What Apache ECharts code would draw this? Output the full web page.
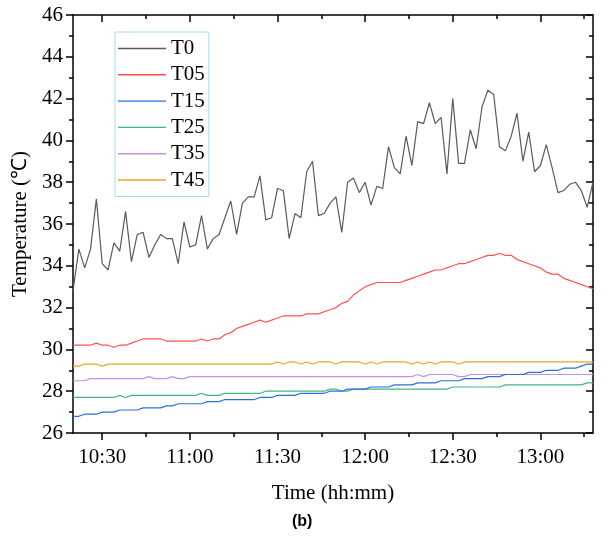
<!DOCTYPE html>
<html>
<head>
<meta charset="utf-8">
<script src="https://cdn.jsdelivr.net/npm/echarts@6/dist/echarts.min.js"></script>
<style>
  html, body { margin: 0; padding: 0; background: #fff; }
  #chart { width: 605px; height: 536px; }
</style>
</head>
<body>
<div id="chart"></div>
<script>
  // sampling times (every 2 min)
  const times = [
    '10:20','10:22','10:24','10:26','10:28','10:30','10:32','10:34','10:36','10:38',
    '10:40','10:42','10:44','10:46','10:48','10:50','10:52','10:54','10:56','10:58',
    '11:00','11:02','11:04','11:06','11:08','11:10','11:12','11:14','11:16','11:18',
    '11:20','11:22','11:24','11:26','11:28','11:30','11:32','11:34','11:36','11:38',
    '11:40','11:42','11:44','11:46','11:48','11:50','11:52','11:54','11:56','11:58',
    '12:00','12:02','12:04','12:06','12:08','12:10','12:12','12:14','12:16','12:18',
    '12:20','12:22','12:24','12:26','12:28','12:30','12:32','12:34','12:36','12:38',
    '12:40','12:42','12:44','12:46','12:48','12:50','12:52','12:54','12:56','12:58',
    '13:00','13:02','13:04','13:06','13:08','13:10','13:12','13:14','13:16','13:18'
  ]

  const t0 = [
    32.8, 34.8, 33.9, 34.8, 37.2, 34.1, 33.8, 35.1, 34.7, 36.6,
    34.2, 35.5, 35.6, 34.4, 35.0, 35.5, 35.3, 35.3, 34.1, 36.1,
    34.9, 35.0, 36.4, 34.8, 35.3, 35.5, 36.3, 37.1, 35.5, 37.0,
    37.3, 37.3, 38.3, 36.2, 36.3, 37.7, 37.6, 35.3, 36.5, 36.3,
    38.5, 39.0, 36.4, 36.5, 37.0, 37.3, 35.6, 38.0, 38.2, 37.5,
    38.0, 36.9, 37.8, 37.7, 39.7, 38.7, 38.4, 40.2, 38.8, 40.9,
    40.8, 41.8, 40.8, 41.1, 38.4, 42.0, 38.9, 38.9, 40.5, 39.6,
    41.6, 42.4, 42.2, 39.7, 39.5, 40.2, 41.3, 39.0, 40.4, 38.5,
    38.8, 39.8, 38.7, 37.5, 37.6, 37.9, 38.0, 37.6, 36.8, 38.0
  ]
  const t05 = [
    30.2, 30.2, 30.2, 30.2, 30.3, 30.2, 30.2, 30.1, 30.2, 30.2,
    30.3, 30.4, 30.5, 30.5, 30.5, 30.5, 30.4, 30.4, 30.4, 30.4,
    30.4, 30.4, 30.5, 30.4, 30.5, 30.5, 30.7, 30.8, 31.0, 31.1,
    31.2, 31.3, 31.4, 31.3, 31.4, 31.5, 31.6, 31.6, 31.6, 31.6,
    31.7, 31.7, 31.7, 31.8, 31.9, 32.0, 32.2, 32.3, 32.6, 32.8,
    33.0, 33.1, 33.2, 33.2, 33.2, 33.2, 33.2, 33.3, 33.4, 33.5,
    33.6, 33.7, 33.8, 33.8, 33.9, 34.0, 34.1, 34.1, 34.2, 34.3,
    34.4, 34.5, 34.5, 34.6, 34.5, 34.5, 34.3, 34.2, 34.1, 34.0,
    33.9, 33.7, 33.6, 33.6, 33.4, 33.3, 33.2, 33.1, 33.0, 32.9
  ]
  const t15 = [
    26.8, 26.8, 26.9, 26.9, 26.9, 27.0, 27.0, 27.0, 27.1, 27.1,
    27.1, 27.1, 27.2, 27.2, 27.2, 27.2, 27.3, 27.3, 27.4, 27.4,
    27.4, 27.4, 27.4, 27.5, 27.5, 27.5, 27.6, 27.6, 27.6, 27.6,
    27.6, 27.6, 27.7, 27.7, 27.7, 27.8, 27.8, 27.8, 27.8, 27.9,
    27.9, 27.9, 27.9, 27.9, 28.0, 28.0, 28.0, 28.1, 28.1, 28.1,
    28.1, 28.2, 28.2, 28.2, 28.2, 28.3, 28.3, 28.3, 28.3, 28.4,
    28.4, 28.4, 28.4, 28.5, 28.5, 28.5, 28.5, 28.6, 28.6, 28.6,
    28.6, 28.7, 28.7, 28.7, 28.8, 28.8, 28.8, 28.8, 28.9, 28.9,
    28.9, 29.0, 29.0, 29.0, 29.1, 29.1, 29.1, 29.2, 29.3, 29.3
  ]
  const t25 = [
    27.7, 27.7, 27.7, 27.7, 27.7, 27.7, 27.7, 27.7, 27.8, 27.7,
    27.8, 27.8, 27.8, 27.8, 27.8, 27.8, 27.8, 27.8, 27.8, 27.8,
    27.8, 27.8, 27.9, 27.8, 27.8, 27.8, 27.9, 27.9, 27.9, 27.9,
    27.9, 27.9, 27.9, 28.0, 28.0, 28.0, 28.0, 28.0, 28.0, 28.0,
    28.0, 28.0, 28.0, 28.0, 28.1, 28.1, 28.0, 28.0, 28.1, 28.1,
    28.1, 28.1, 28.1, 28.1, 28.1, 28.1, 28.1, 28.1, 28.1, 28.1,
    28.1, 28.1, 28.1, 28.1, 28.1, 28.2, 28.2, 28.2, 28.2, 28.2,
    28.2, 28.2, 28.2, 28.2, 28.3, 28.3, 28.3, 28.3, 28.3, 28.3,
    28.3, 28.3, 28.3, 28.3, 28.3, 28.3, 28.3, 28.3, 28.4, 28.4
  ]
  const t35 = [
    28.5, 28.5, 28.5, 28.6, 28.6, 28.6, 28.6, 28.6, 28.6, 28.6,
    28.6, 28.6, 28.6, 28.7, 28.6, 28.6, 28.6, 28.7, 28.6, 28.6,
    28.7, 28.7, 28.7, 28.7, 28.7, 28.7, 28.7, 28.7, 28.7, 28.7,
    28.7, 28.7, 28.7, 28.7, 28.7, 28.7, 28.7, 28.7, 28.7, 28.7,
    28.7, 28.7, 28.7, 28.7, 28.7, 28.7, 28.7, 28.7, 28.7, 28.7,
    28.7, 28.7, 28.7, 28.7, 28.7, 28.7, 28.7, 28.7, 28.7, 28.8,
    28.7, 28.8, 28.8, 28.8, 28.8, 28.8, 28.7, 28.7, 28.8, 28.8,
    28.8, 28.8, 28.8, 28.8, 28.8, 28.8, 28.8, 28.8, 28.8, 28.8,
    28.8, 28.8, 28.8, 28.8, 28.8, 28.8, 28.8, 28.8, 28.8, 28.8
  ]
  const t45 = [
    29.2, 29.2, 29.3, 29.3, 29.3, 29.2, 29.3, 29.3, 29.3, 29.3,
    29.3, 29.3, 29.3, 29.3, 29.3, 29.3, 29.3, 29.3, 29.3, 29.3,
    29.3, 29.3, 29.3, 29.3, 29.3, 29.3, 29.3, 29.3, 29.3, 29.3,
    29.3, 29.3, 29.3, 29.3, 29.3, 29.4, 29.3, 29.4, 29.4, 29.3,
    29.4, 29.3, 29.4, 29.4, 29.4, 29.3, 29.4, 29.4, 29.4, 29.4,
    29.3, 29.4, 29.3, 29.4, 29.4, 29.4, 29.4, 29.4, 29.3, 29.4,
    29.3, 29.4, 29.3, 29.4, 29.4, 29.4, 29.3, 29.4, 29.4, 29.4,
    29.4, 29.4, 29.4, 29.4, 29.4, 29.4, 29.4, 29.4, 29.4, 29.4,
    29.4, 29.4, 29.4, 29.4, 29.4, 29.4, 29.4, 29.4, 29.4, 29.4
  ]

  const seriesNames = ['T0', 'T05', 'T15', 'T25', 'T35', 'T45']
  const seriesValues = [t0, t05, t15, t25, t35, t45]
  const colors = ['#5a5a5a', '#ff5050', '#2a6fdf', '#45b583', '#c690e8', '#e2a822']

  const majorTickLabels = ['10:30', '11:00', '11:30', '12:00', '12:30', '13:00']
  const minorTickLabels = ['10:45', '11:15', '11:45', '12:15', '12:45', '13:15']

  function toMin(s) {
    const p = s.split(':')
    return Number(p[0]) * 60 + Number(p[1])
  }
  function fmtMin(v) {
    const h = Math.floor(v / 60)
    const m = Math.round(v - h * 60)
    return h + ':' + (m < 10 ? '0' + m : m)
  }

  const serif = 'Liberation Serif'
  const xMin = toMin(times[0])
  const xMax = toMin(times[times.length - 1])
  const majorVals = majorTickLabels.map(toMin)
  const minorVals = minorTickLabels.map(toMin)
  const axisLineStyle = { color: '#000', width: 1.5 }

  function tickAxis(position, vals, len, inside, showLine) {
    return {
      type: 'value',
      position: position,
      min: xMin,
      max: xMax,
      axisLine: { show: showLine, lineStyle: axisLineStyle },
      axisTick: { show: true, inside: inside, length: len, customValues: vals, lineStyle: axisLineStyle },
      axisLabel: { show: false },
      splitLine: { show: false }
    }
  }

  const option = {
    animation: false,
    backgroundColor: '#fff',
    title: {
      text: '(b)',
      left: 287,
      top: 509,
      textStyle: { fontFamily: 'Liberation Sans', fontWeight: 'bold', fontSize: 16, color: '#000' }
    },
    grid: { left: 73, right: 12, top: 15, bottom: 103, containLabel: false },
    legend: {
      data: seriesNames.map(function (n) { return { name: n, icon: 'rect' } }),
      orient: 'vertical',
      left: 115,
      top: 32,
      itemWidth: 48,
      itemHeight: 1.4,
      itemGap: 5.3,
      padding: [6, 4, 6, 3],
      borderColor: '#a8d8f2',
      borderWidth: 1,
      selectedMode: false,
      textStyle: { fontFamily: serif, fontSize: 21, color: '#000' }
    },
    xAxis: [
      {
        type: 'value',
        position: 'bottom',
        min: xMin,
        max: xMax,
        name: 'Time (hh:mm)',
        nameLocation: 'middle',
        nameGap: 50,
        nameTextStyle: { fontFamily: serif, fontSize: 21, color: '#000' },
        axisLine: { show: true, lineStyle: axisLineStyle },
        axisTick: { show: true, inside: false, length: 7, customValues: majorVals, lineStyle: axisLineStyle },
        axisLabel: {
          customValues: majorVals,
          formatter: fmtMin,
          fontFamily: serif,
          fontSize: 21,
          color: '#000',
          margin: 14
        },
        splitLine: { show: false }
      },
      tickAxis('bottom', minorVals, 4, false, false),
      tickAxis('top', majorVals, 7, true, true),
      tickAxis('top', minorVals, 4, true, false)
    ],
    yAxis: [
      {
        type: 'value',
        position: 'left',
        min: 26,
        max: 46,
        interval: 2,
        name: 'Temperature (℃)',
        nameLocation: 'middle',
        nameGap: 36,
        nameTextStyle: { fontFamily: serif, fontSize: 21, color: '#000' },
        axisLine: { show: true, lineStyle: axisLineStyle },
        axisTick: { show: true, inside: false, length: 7, lineStyle: axisLineStyle },
        minorTick: { show: true, splitNumber: 2, length: 4, lineStyle: axisLineStyle },
        axisLabel: { fontFamily: serif, fontSize: 21, color: '#000', margin: 10 },
        splitLine: { show: false }
      },
      {
        type: 'value',
        position: 'right',
        min: 26,
        max: 46,
        interval: 2,
        axisLine: { show: true, lineStyle: axisLineStyle },
        axisTick: { show: true, inside: true, length: 7, lineStyle: axisLineStyle },
        minorTick: { show: true, splitNumber: 2, length: 4, lineStyle: axisLineStyle },
        axisLabel: { show: false },
        splitLine: { show: false }
      }
    ],
    series: seriesNames.map(function (name, i) {
      return {
        name: name,
        type: 'line',
        xAxisIndex: 0,
        yAxisIndex: 0,
        symbol: 'none',
        color: colors[i],
        lineStyle: { color: colors[i], width: 1.2 },
        data: times.map(function (t, j) { return [toMin(t), seriesValues[i][j]] }),
        z: 10 - i
      }
    })
  }

  const chart = echarts.init(document.getElementById('chart'))
  chart.setOption(option)
</script>
</body>
</html>
